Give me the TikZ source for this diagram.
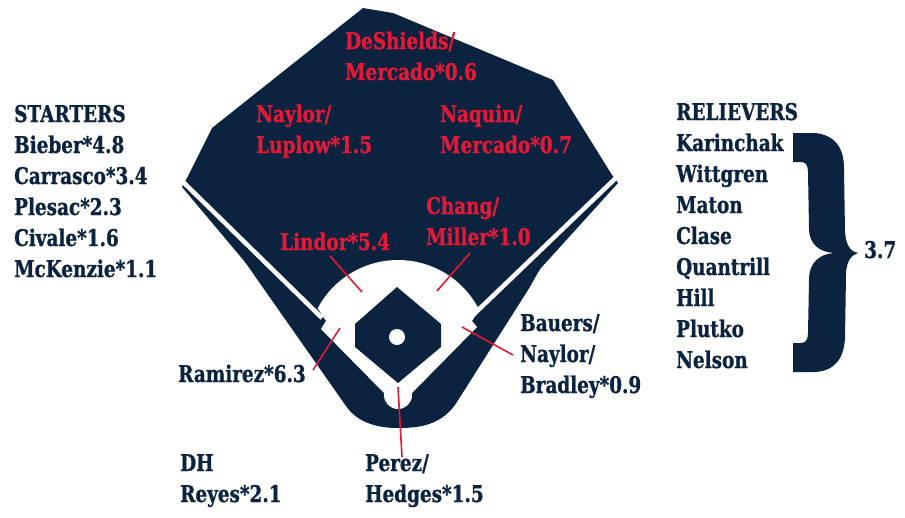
\documentclass[tikz,border=0pt]{standalone}
\usepackage{fontspec}
\setmainfont{DejaVu Serif}[FakeStretch=0.8, FakeBold=1]
\usetikzlibrary{positioning}
\definecolor{fieldnavy}{HTML}{0C2340}
\definecolor{tribered}{HTML}{E31937}

\begin{document}
\begin{tikzpicture}[x=1pt, y=-1pt,
  every node/.style={inner sep=0pt, anchor=base west, align=left, font=\fontsize{23}{31}\selectfont\bfseries},
  navytext/.style={text=fieldnavy},
  redtext/.style={text=tribered},
  leader/.style={tribered, line width=1.6pt}]
  \useasboundingbox (0,0) rectangle (905,517);

  % field and foul ground
  \fill[fieldnavy] (363,8) -- (393,13) -- (553,80) -- (612,175) -- (618,183) -- (541,268)
    .. controls (536,275) and (533,282) .. (528,290) -- (455,405)
    .. controls (440,425) and (420,428) .. (398,428)
    .. controls (376,428) and (357,422) .. (346,406) -- (252,272)
    .. controls (248,266) and (245,262) .. (240,256) -- (182,187) -- (187,178) -- (212,128) -- cycle;
  \draw[white, line width=4.5pt] (178,177) -- (322,318);
  \draw[white, line width=4.5pt] (620,174) -- (472,316);

  % infield
  \fill[white] (317.7,308.3) arc[start angle=208, end angle=333, radius=91]
    -- (472,321) -- (477,327) -- (412,393) -- (384,393) -- (321,329) -- (326,321) -- cycle;
  \fill[white] (398,395) circle (14);
  \fill[fieldnavy] (397,287) -- (441,324) -- (441,347) -- (398,383) -- (355,347) -- (355,324) -- cycle;
  \fill[white] (397,337) circle (8);

  % fielders (base anchor sits on the last line)
  \node[redtext] (cf) at (345,80) {DeShields/\\Mercado*0.6};
  \node[redtext] (lf) at (256,153) {Naylor/\\Luplow*1.5};
  \node[redtext] (rf) at (440,153) {Naquin/\\Mercado*0.7};
  \node[redtext] (second) at (426,245) {Chang/\\Miller*1.0};
  \node[redtext] (ss) at (280,250) {Lindor*5.4};
  \node[navytext] (third) at (178,382) {Ramirez*6.3};
  \node[navytext] (first) at (520,393) {Bauers/\\Naylor/\\Bradley*0.9};
  \node[navytext] (catcher) at (365,502) {Perez/\\Hedges*1.5};
  \node[navytext] (dh) at (180,502) {DH\\Reyes*2.1};

  \coordinate (sstail) at (330,256);   \coordinate (sshead) at (362,292);
  \coordinate (sectail) at (470,253);  \coordinate (sechead) at (437,291);
  \coordinate (thtail) at (313,370);   \coordinate (thhead) at (340,328);
  \coordinate (fsttail) at (513,355);  \coordinate (fsthead) at (462,327);
  \coordinate (ctail) at (402,457);    \coordinate (chead) at (398,387);
  \draw[leader] (sstail) -- (sshead);
  \draw[leader] (sectail) -- (sechead);
  \draw[leader] (thtail) -- (thhead);
  \draw[leader] (fsttail) -- (fsthead);
  \draw[leader] (ctail) -- (chead);

  % pitchers
  \node[navytext] (starters) at (14,122) {STARTERS};
  \foreach \sp [count=\i] in {Bieber*4.8, Carrasco*3.4, Plesac*2.3, Civale*1.6, McKenzie*1.1}
    \node[navytext] (sp\i) at (14,{122+31*\i}) {\sp};

  \node[navytext] (relievers) at (676,120) {RELIEVERS};
  \foreach \rp [count=\i] in {Karinchak, Wittgren, Maton, Clase, Quantrill, Hill, Plutko, Nelson}
    \node[navytext] (rp\i) at (676,{120+31*\i}) {\rp};

  \fill[fieldnavy] (793,133) -- (815,133) .. controls (835,135) and (844,148) .. (844,168)
    -- (845,232) .. controls (846,246) and (851,252) .. (858,253)
    .. controls (851,255) and (846,262) .. (846,275) -- (845,338)
    .. controls (844,358) and (835,371) .. (815,372) -- (793,372) -- (793,343) -- (801,343)
    .. controls (806,343) and (808,339) .. (808,333) -- (809,280)
    .. controls (809,262) and (820,254) .. (834,253)
    .. controls (820,252) and (809,245) .. (809,228) -- (808,172)
    .. controls (808,166) and (806,162) .. (801,162) -- (793,162) -- cycle;
  \node[navytext] (bullpen) at (864,258) {3.7};
\end{tikzpicture}
\end{document}
